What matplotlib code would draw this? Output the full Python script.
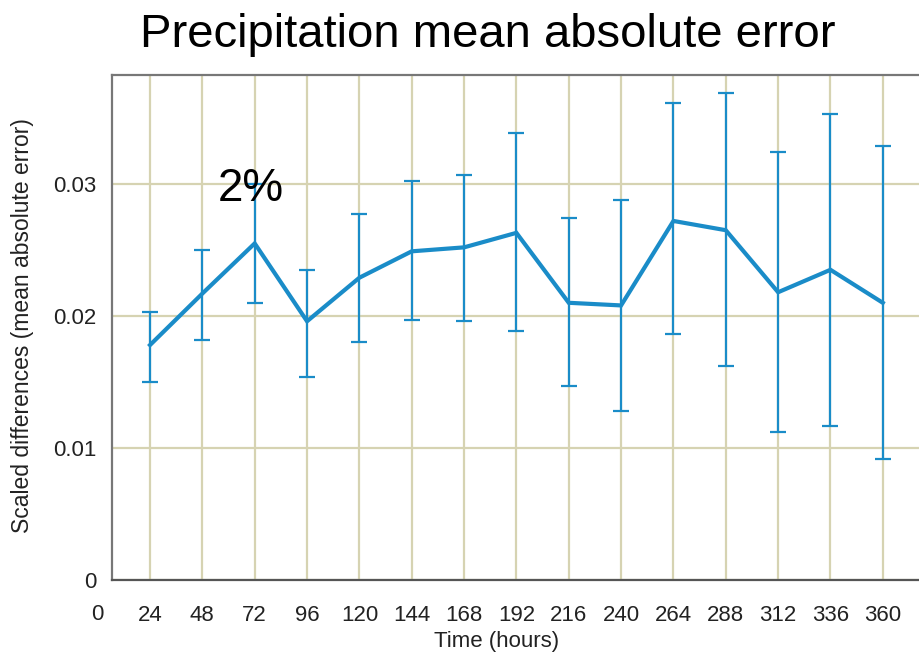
import matplotlib.pyplot as plt

# forecast lead time (hours) and scaled mean absolute error with its range
hours = [24, 48, 72, 96, 120, 144, 168, 192, 216, 240, 264, 288, 312, 336, 360]
mae = [0.0178, 0.0217, 0.0255, 0.0196, 0.0229, 0.0249, 0.0252, 0.0263,
       0.0210, 0.0208, 0.0272, 0.0265, 0.0218, 0.0235, 0.0210]
upper = [0.0203, 0.0250, 0.0300, 0.0235, 0.0277, 0.0302, 0.0307, 0.0339,
         0.0274, 0.0288, 0.0361, 0.0369, 0.0324, 0.0353, 0.0329]
lower = [0.0150, 0.0182, 0.0210, 0.0154, 0.0180, 0.0197, 0.0196, 0.0189,
         0.0147, 0.0128, 0.0186, 0.0162, 0.0112, 0.0117, 0.0092]

x_ticks = [24, 48, 72, 96, 120, 144, 168, 192, 216, 240, 264, 288, 312, 336, 360]
y_ticks = [0, 0.01, 0.02, 0.03]
y_tick_labels = ["0", "0.01", "0.02", "0.03"]

blue = "#1a8cc8"
grid_col = "#d6d3b2"

plt.rcParams['font.family'] = ['Liberation Sans', 'DejaVu Sans']

fig = plt.figure(figsize=(9.19, 6.56), dpi=100)
ax = fig.add_axes([0.1219, 0.1159, 0.8781, 0.7698])

err = [[m - lo for m, lo in zip(mae, lower)], [up - m for m, up in zip(mae, upper)]]
ax.errorbar(hours, mae, yerr=err, fmt='none', ecolor=blue, elinewidth=1.6,
            capsize=6, capthick=1.6, zorder=3)
ax.plot(hours, mae, color=blue, linewidth=3, solid_joinstyle='miter', zorder=4)

ax.set_xlim(6.58, 376.6)
ax.set_ylim(0, 0.03826)
ax.set_xticks(x_ticks)
ax.set_xticklabels([str(h) for h in x_ticks])
ax.set_yticks(y_ticks)
ax.set_yticklabels(y_tick_labels)
ax.tick_params(axis='both', length=0, labelsize=16, colors='#222222')
ax.tick_params(axis='y', pad=11)
ax.tick_params(axis='x', pad=18)

# the "0" hour label sits left of the plotting area
ax.text(0, -0.0685, "0", transform=ax.get_xaxis_transform(), ha='center',
        va='center', fontsize=16, color='#222222', clip_on=False)

ax.grid(True, color=grid_col, linewidth=1.6)
ax.set_axisbelow(True)
for s in ['left', 'top']:
    ax.spines[s].set_color('#777777')
    ax.spines[s].set_linewidth(1.6)
ax.spines['bottom'].set_color('#555555')
ax.spines['bottom'].set_linewidth(1.6)
ax.spines['right'].set_visible(False)

ax.text(70.3, 0.0287, "2%", fontsize=33, color='black', ha='center', va='baseline', zorder=5)

fig.text(487.5 / 919, 1 - 47 / 656, "Precipitation mean absolute error",
         ha='center', va='baseline', fontsize=34, color='black')
fig.text(496.5 / 919, 1 - 642 / 656, "Time (hours)", ha='center', va='center',
         fontsize=16, color='#222222')
fig.text(23 / 919, 1 - 326 / 656, "Scaled differences (mean absolute error)",
         rotation=90, ha='center', va='center', fontsize=16.5, color='#222222')

fig.savefig("out.png", dpi=100)
